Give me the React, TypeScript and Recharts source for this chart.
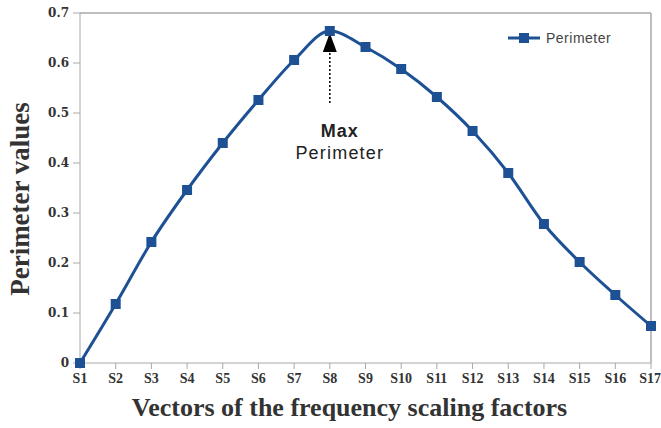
import {
  LineChart,
  Line,
  XAxis,
  YAxis,
  ReferenceLine,
  ReferenceDot,
} from 'recharts';

document.body.style.margin = '0';

const categories = [
  'S1', 'S2', 'S3', 'S4', 'S5', 'S6', 'S7', 'S8', 'S9',
  'S10', 'S11', 'S12', 'S13', 'S14', 'S15', 'S16', 'S17',
];
const perimeter = [
  0, 0.118, 0.242, 0.346, 0.44, 0.526, 0.606, 0.664, 0.632,
  0.588, 0.532, 0.464, 0.38, 0.278, 0.202, 0.136, 0.074,
];
const yTicks = [0, 0.1, 0.2, 0.3, 0.4, 0.5, 0.6, 0.7];

const data = categories.map((name, i) => ({ name, perimeter: perimeter[i] }));

const BLUE = '#1d5194';
const AXIS = '#a8a8a8';
const SERIF = '"Liberation Serif", "DejaVu Serif", serif';
const DSERIF = '"DejaVu Serif", serif';
const SANS = '"Liberation Sans", Arial, sans-serif';

function SquareDot(props: any) {
  const { cx, cy } = props;
  if (cx == null || cy == null) return null;
  return <rect x={cx - 5} y={cy - 5} width={10} height={10} fill={BLUE} />;
}

function ArrowHead(props: any) {
  const { cx, cy } = props;
  if (cx == null || cy == null) return null;
  return <polygon points={`${cx},${cy} ${cx - 7},${cy + 19} ${cx + 7},${cy + 19}`} fill="#000" />;
}

function MaxLabel(props: any) {
  const { cx, cy } = props;
  if (cx == null || cy == null) return null;
  // label sits a little right of the arrow, like the original
  const x = cx + 10;
  return (
    <g fontFamily={SANS} fontSize={18} fill="#222" textAnchor="middle">
      <text x={x} y={cy} fontWeight="bold" letterSpacing={1}>Max</text>
      <text x={x} y={cy + 22} letterSpacing={1.2}>Perimeter</text>
    </g>
  );
}

function YLabel(props: any) {
  const vb = props.viewBox || {};
  const x = 20;
  const y = (vb.y ?? 13) + (vb.height ?? 350) / 2 + 11;
  return (
    <text
      x={x}
      y={y}
      transform={`rotate(-90, ${x}, ${y})`}
      textAnchor="middle"
      dominantBaseline="central"
      fill="#333"
      fontFamily={SERIF}
      fontWeight="bold"
      fontSize={27}
    >
      Perimeter values
    </text>
  );
}

export default function App() {
  return (
    <div style={{ position: 'relative', width: 661, height: 428, background: '#fff' }}>
      <LineChart
        width={661}
        height={428}
        data={data}
        margin={{ top: 13, right: 10, bottom: 0, left: 0 }}
      >
        <XAxis
          dataKey="name"
          height={65}
          stroke={AXIS}
          tickSize={6}
          tick={{ fill: '#333', fontFamily: SERIF, fontWeight: 'bold', fontSize: 14 }}
          tickMargin={4}
          label={{
            value: 'Vectors of the frequency scaling factors',
            position: 'insideBottom',
            offset: 12,
            dx: -16,
            fill: '#333',
            fontFamily: SERIF,
            fontWeight: 'bold',
            fontSize: 26,
          }}
        />
        <YAxis
          width={80}
          domain={[0, 0.7]}
          ticks={yTicks}
          stroke={AXIS}
          tickSize={7}
          tick={{ fill: '#333', fontFamily: DSERIF, fontWeight: 'bold', fontSize: 12 }}
          tickMargin={4}
          label={<YLabel />}
        />
        <ReferenceLine y={0.7} stroke={AXIS} strokeWidth={1.5} />
        <ReferenceLine x="S17" stroke={AXIS} strokeWidth={1.5} />
        <ReferenceLine
          segment={[{ x: 'S8', y: 0.52 }, { x: 'S8', y: 0.622 }]}
          stroke="#000"
          strokeWidth={1.5}
          strokeDasharray="2 2"
        />
        <ReferenceDot x="S8" y={0.66} shape={ArrowHead} />
        <ReferenceDot x="S8" y={0.452} shape={MaxLabel} />
        <Line
          type="monotone"
          dataKey="perimeter"
          stroke={BLUE}
          strokeWidth={3}
          dot={<SquareDot />}
          activeDot={false}
          isAnimationActive={false}
        />
      </LineChart>
      <div
        style={{
          position: 'absolute',
          left: 508,
          top: 30,
          display: 'flex',
          alignItems: 'center',
          fontFamily: SANS,
          fontSize: 14,
          letterSpacing: 0.5,
          color: '#444',
        }}
      >
        <svg width={32} height={12} style={{ marginRight: 6 }}>
          <line x1={0} y1={6} x2={32} y2={6} stroke={BLUE} strokeWidth={3} />
          <rect x={11} y={1} width={10} height={10} fill={BLUE} />
        </svg>
        Perimeter
      </div>
    </div>
  );
}
